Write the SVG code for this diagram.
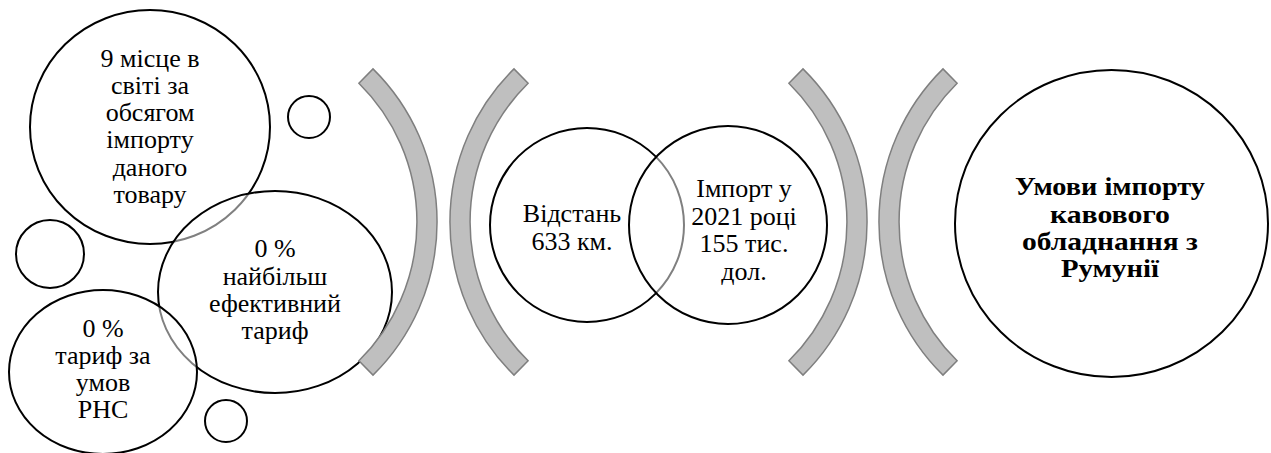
<svg xmlns="http://www.w3.org/2000/svg" width="1271" height="453" viewBox="0 0 1271 453">
  <style>
    .c { fill: #ffffff; fill-opacity: 0.5; stroke: #000000; stroke-width: 2; }
    .arc { fill: #bfbfbf; stroke: #7f7f7f; stroke-width: 1.5; }
    .t { font-family: 'Liberation Serif', serif; font-size: 26px; fill: #000000; text-anchor: middle; }
    .b { font-weight: bold; }
  </style>
  <rect x="0" y="0" width="1271" height="453" fill="#ffffff"/>

  <g id="node-rank">
    <ellipse class="c" cx="150" cy="127" rx="120" ry="117"/>
    <text class="t" x="150" y="67">9 місце в</text>
    <text class="t" x="150" y="94">світі за</text>
    <text class="t" x="150" y="121">обсягом</text>
    <text class="t" x="150" y="148">імпорту</text>
    <text class="t" x="150" y="176">даного</text>
    <text class="t" x="150" y="203">товару</text>
  </g>

  <g id="bubble-top"><circle class="c" cx="309" cy="117" r="21"/></g>
  <g id="bubble-left"><circle class="c" cx="50" cy="254" r="34"/></g>
  <g id="bubble-bottom"><circle class="c" cx="226" cy="421" r="21"/></g>

  <g id="node-mfn">
    <ellipse class="c" cx="275" cy="292" rx="117" ry="101"/>
    <text class="t" x="275" y="257">0 %</text>
    <text class="t" x="275" y="285">найбільш</text>
    <text class="t" x="275" y="312">ефективний</text>
    <text class="t" x="275" y="339">тариф</text>
  </g>

  <g id="node-fta">
    <ellipse class="c" cx="103" cy="372" rx="94" ry="82"/>
    <text class="t" x="103" y="337">0 %</text>
    <text class="t" x="103" y="364">тариф за</text>
    <text class="t" x="103" y="391">умов</text>
    <text class="t" x="103" y="418">РНС</text>
  </g>

  <g id="separators">
    <path class="arc" d="M373,68.9 A215,215 0 0 1 373,375.1 L358.9,360.8 A195,195 0 0 0 358.9,83.2 Z"/>
    <path class="arc" d="M514,68.9 A215,215 0 0 0 514,375.1 L528.1,360.8 A195,195 0 0 1 528.1,83.2 Z"/>
    <path class="arc" d="M803,68.9 A215,215 0 0 1 803,375.1 L788.9,360.8 A195,195 0 0 0 788.9,83.2 Z"/>
    <path class="arc" d="M943,68.9 A215,215 0 0 0 943,375.1 L957.1,360.8 A195,195 0 0 1 957.1,83.2 Z"/>
  </g>

  <g id="node-distance">
    <circle class="c" cx="587" cy="225" r="97"/>
    <text class="t" x="572" y="222">Відстань</text>
    <text class="t" x="572" y="250">633 км.</text>
  </g>

  <g id="node-import">
    <circle class="c" cx="728" cy="225" r="99"/>
    <text class="t" x="744" y="197">Імпорт у</text>
    <text class="t" x="744" y="225">2021 році</text>
    <text class="t" x="744" y="252">155 тис.</text>
    <text class="t" x="744" y="280">дол.</text>
  </g>

  <g id="node-main">
    <ellipse class="c" cx="1111.5" cy="223.5" rx="156.5" ry="153.5"/>
    <text class="t b" x="1110" y="195" textLength="190" lengthAdjust="spacingAndGlyphs">Умови імпорту</text>
    <text class="t b" x="1110" y="223" textLength="120" lengthAdjust="spacingAndGlyphs">кавового</text>
    <text class="t b" x="1110" y="250" textLength="176" lengthAdjust="spacingAndGlyphs">обладнання з</text>
    <text class="t b" x="1110" y="277" textLength="98" lengthAdjust="spacingAndGlyphs">Румунії</text>
  </g>
</svg>
